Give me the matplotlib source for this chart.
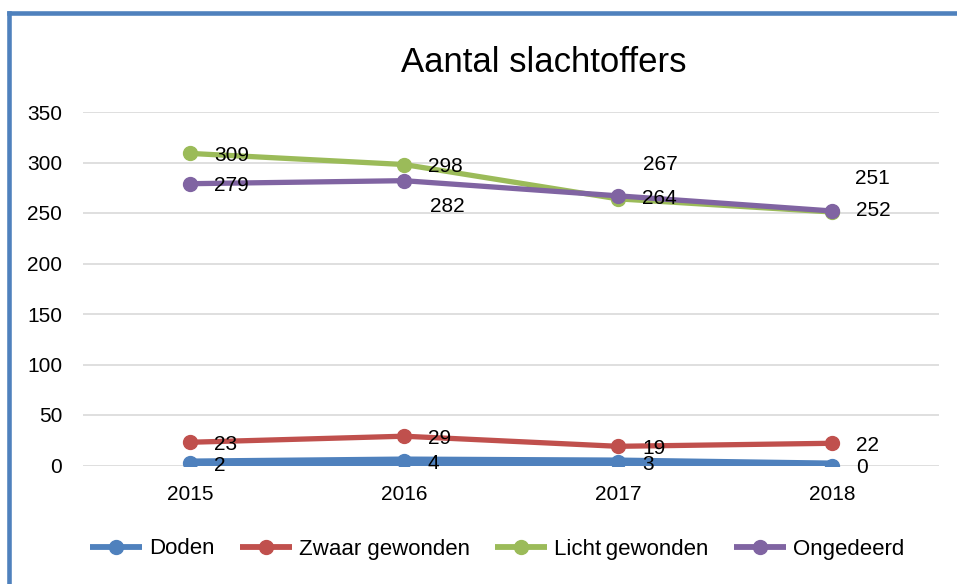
import matplotlib
matplotlib.use("Agg")
import matplotlib.pyplot as plt
from matplotlib.lines import Line2D

plt.rcParams['font.family'] = ['Liberation Sans', 'DejaVu Sans']

# data
years = ['2015', '2016', '2017', '2018']
doden = [2, 4, 3, 0]
zwaar = [23, 29, 19, 22]
licht = [309, 298, 264, 251]
ongedeerd = [279, 282, 267, 252]

series = [
    ('Doden', doden, '#4F81BD', 7.2),
    ('Zwaar gewonden', zwaar, '#C0504D', 3.8),
    ('Licht\u2009gewonden', licht, '#9BBB59', 3.8),
    ('Ongedeerd', ongedeerd, '#8064A2', 3.8),
]

# label offsets in pixels (dx, dy), default is right of the point
label_offsets = {
    ('Ongedeerd', 1): (26, -26),
    ('Ongedeerd', 2): (25, 31),
    ('Ongedeerd', 3): (24, 0),
    ('Licht\u2009gewonden', 2): (24, 0),
    ('Licht\u2009gewonden', 3): (23, 33),
}

fig = plt.figure(figsize=(9.57, 5.84), dpi=100)
ax = fig.add_axes([83 / 957, 1 - 465.5 / 584, (939 - 83) / 957, (465.5 - 112) / 584])

x = list(range(len(years)))
for name, vals, col, lw in series:
    ax.plot(x, vals, color=col, lw=lw, marker='o', markersize=10,
            solid_capstyle='butt', label=name, zorder=3)
    for i, v in enumerate(vals):
        dx, dy = label_offsets.get((name, i), (24, -2))
        ax.annotate(str(v), (i, v), xytext=(dx, dy), textcoords='offset pixels',
                    ha='left', va='center', fontsize=15, color='black', zorder=5)

ax.set_xlim(-0.5, len(years) - 0.5)
ax.set_ylim(0, 350)
ax.set_yticks(range(0, 351, 50))
ax.set_xticks(x)
ax.set_xticklabels(years)
ax.tick_params(axis='both', length=0, labelsize=15)
ax.tick_params(axis='y', pad=15)
ax.tick_params(axis='x', pad=14)
ax.grid(axis='y', color='#D9D9D9', lw=1.2)
ax.set_axisbelow(True)
for s in ax.spines.values():
    s.set_visible(False)

fig.text(544 / 957, 1 - 72 / 584, 'Aantal slachtoffers', ha='center', va='baseline',
         fontsize=25)

leg = fig.legend(loc='center', bbox_to_anchor=(497 / 957, 1 - 549 / 584), ncol=4,
                 frameon=False, fontsize=16, handlelength=2.35, handletextpad=0.3,
                 columnspacing=1.15, borderpad=0)
for ln in leg.get_lines():
    ln.set_linewidth(4.2)
    ln.set_markersize(10)

# blue frame on left and top
fig.add_artist(Line2D([9 / 957, 9 / 957], [0, 1 - 12.5 / 584], transform=fig.transFigure,
                      color='#4F81BD', lw=3.3, solid_capstyle='projecting'))
fig.add_artist(Line2D([9 / 957, 1], [1 - 12.5 / 584, 1 - 12.5 / 584], transform=fig.transFigure,
                      color='#4F81BD', lw=3.3, solid_capstyle='projecting'))

fig.savefig('out.png', dpi=100)
